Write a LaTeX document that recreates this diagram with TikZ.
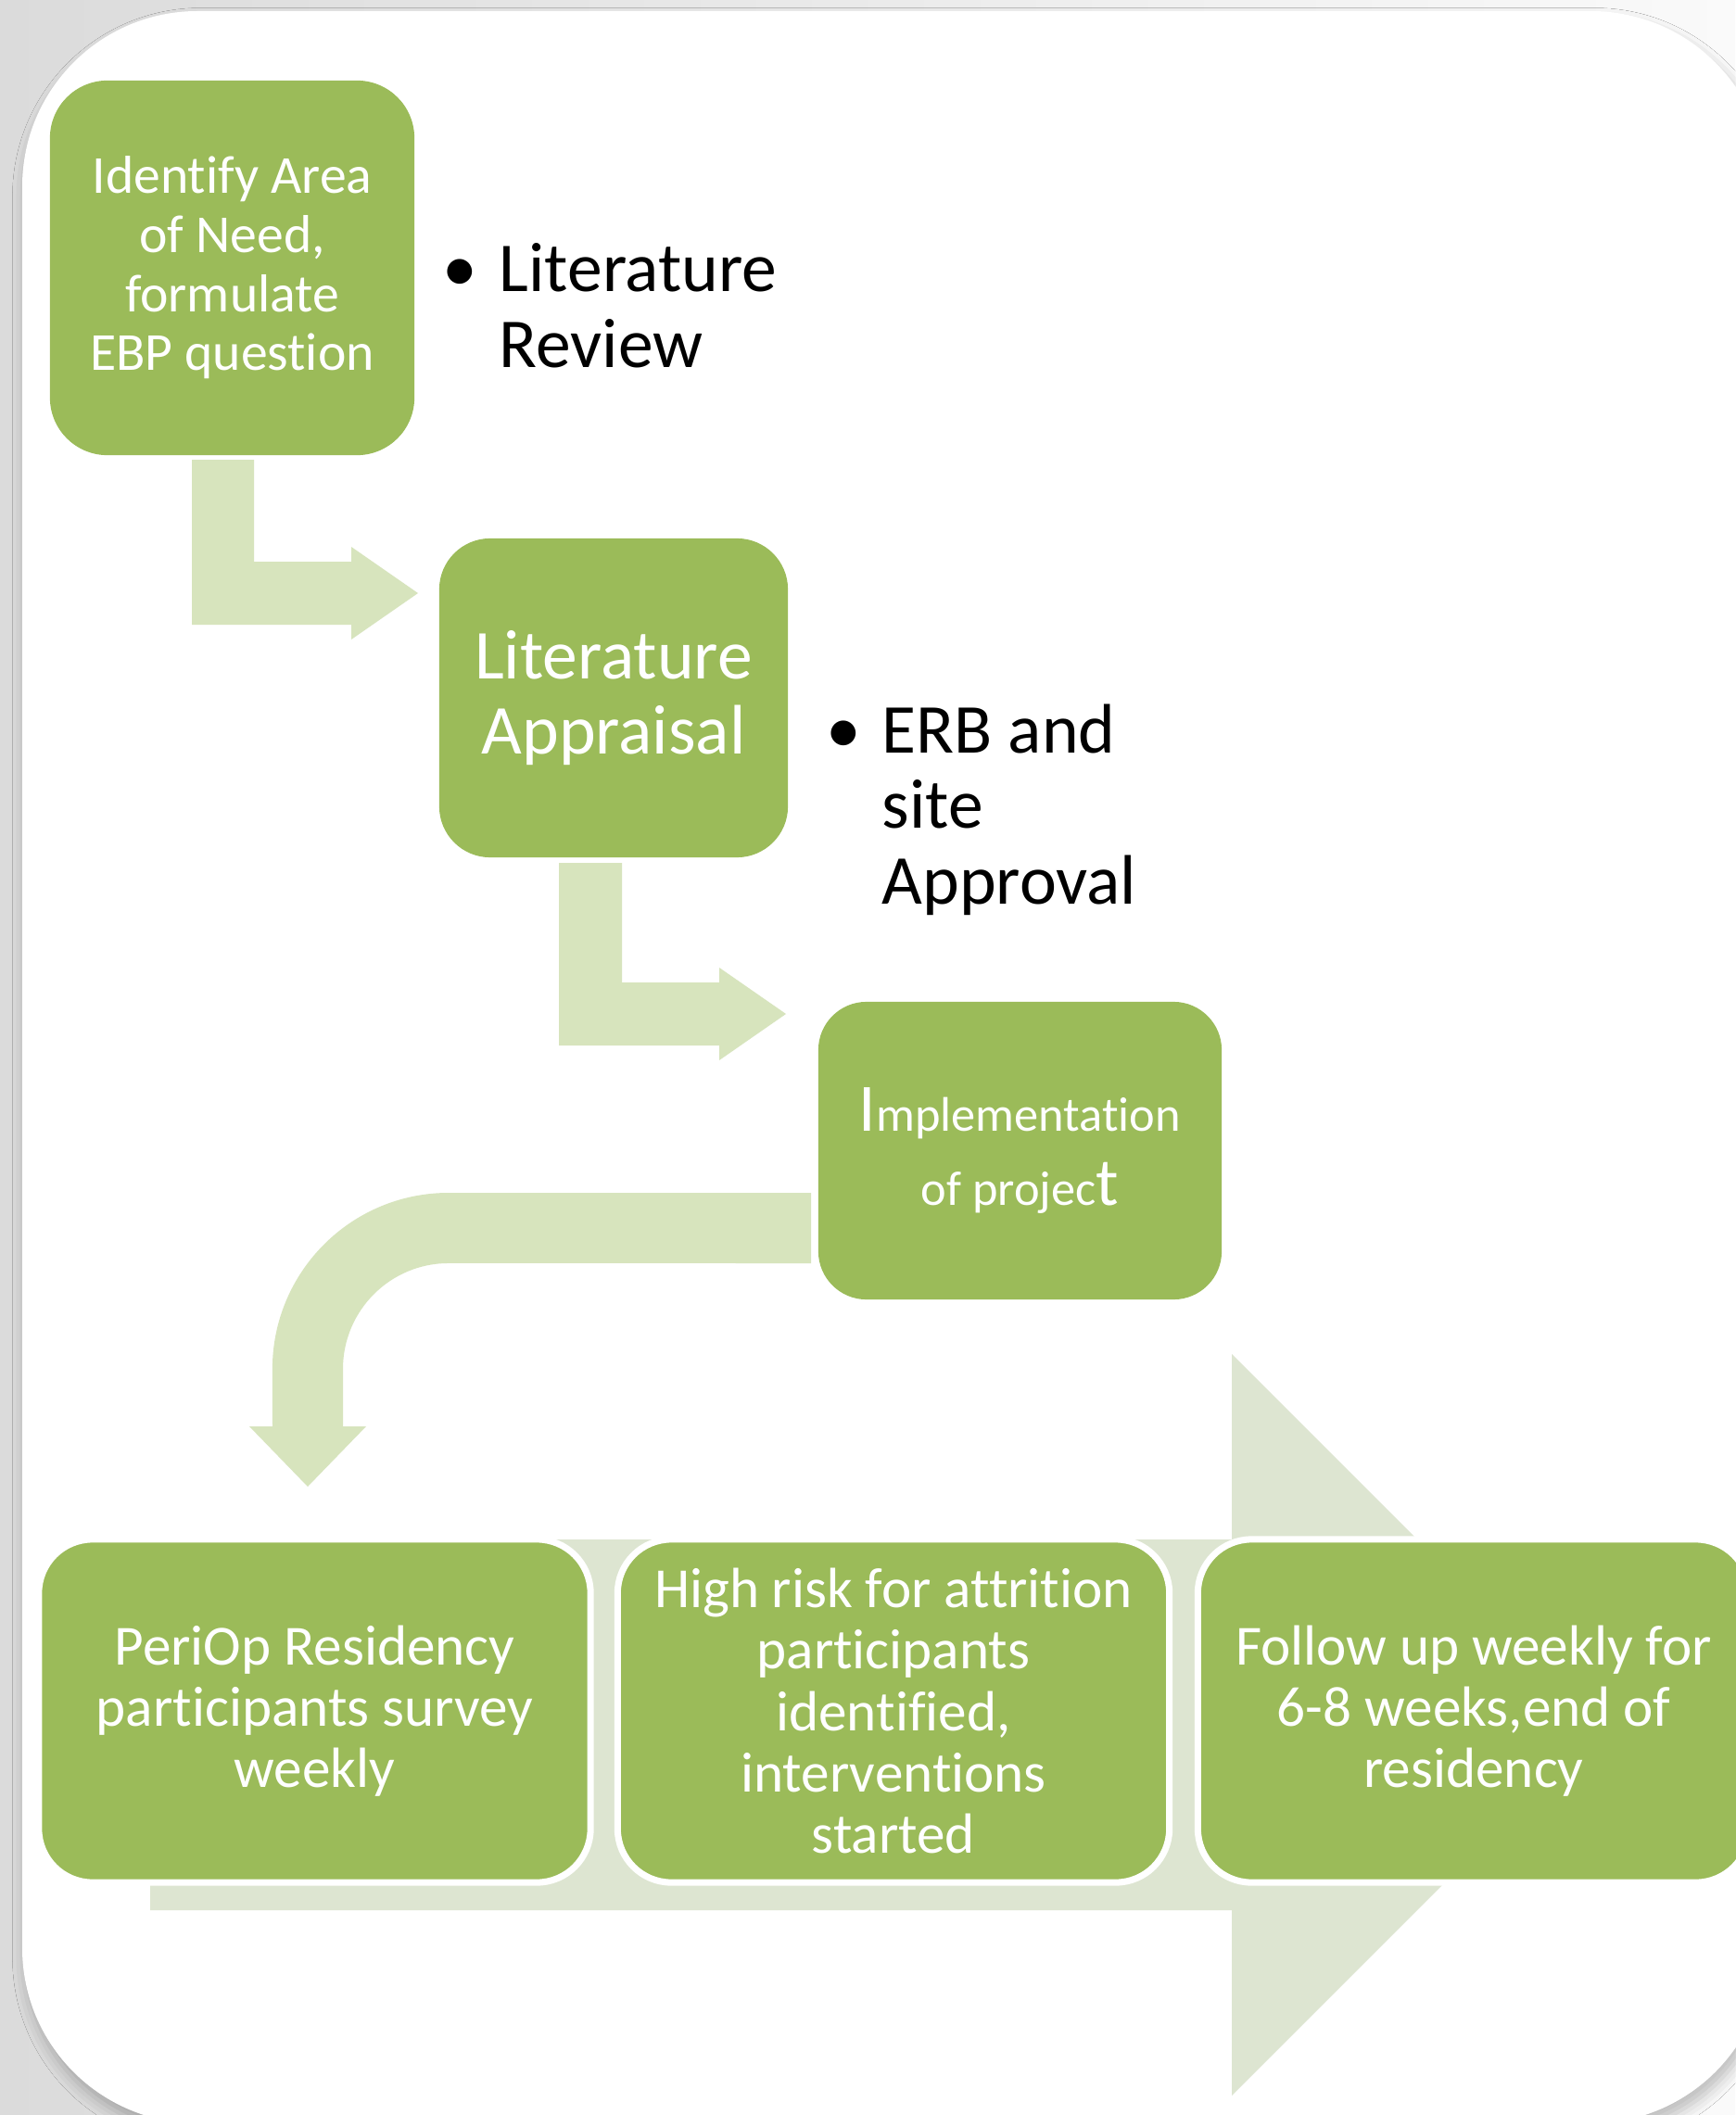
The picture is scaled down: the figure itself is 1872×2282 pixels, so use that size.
\documentclass[tikz,border=0pt]{standalone}
\usepackage{fontspec}
\setmainfont[Ligatures=NoCommon]{Carlito}
\usetikzlibrary{shadows.blur}
\definecolor{boxgreen}{HTML}{9BBB59}
\definecolor{linkgreen}{HTML}{D7E4BD}
\definecolor{flowgreen}{HTML}{DDE5D1}
\definecolor{pagegrey}{HTML}{DBDBDB}
\definecolor{pagelight}{HTML}{FAFAFA}
% one oversized letter inside a line of text
\newcommand\tallchar[1]{{\fontsize{20.8pt}{22.8pt}\selectfont #1}}

\begin{document}
\begin{tikzpicture}[x=0.01cm,y=0.01cm,
  stepbox/.style={fill=boxgreen, text=white, inner sep=0pt, align=center},
  stagebox/.style={stepbox, draw=white, line width=2pt, rounded corners=0.58cm,
    minimum width=5.95cm, minimum height=3.70cm,
    font=\fontsize{17.4pt}{18.8pt}\selectfont},
  bullettext/.style={font=\fontsize{21.5pt}{23.2pt}\selectfont, inner sep=0pt},
]
\useasboundingbox (0,0) rectangle (1872,-2282);

% backdrop and rounded white panel
\shade[left color=pagegrey, right color=pagelight] (0,0) rectangle (1872,-2282);
\fill[white, rounded corners=1.89cm,
  blur shadow={shadow xshift=1pt, shadow yshift=-3pt, shadow blur radius=4pt, shadow opacity=25}]
  (24,-12) rectangle (1906,-2291);

% wide process arrow behind the three stages
\fill[flowgreen] (162,-1661) -- (1329,-1661) -- (1329,-1461) -- (1729,-1861)
  -- (1329,-2261) -- (1329,-2061) -- (162,-2061) -- cycle;

% bent arrows between the steps
\fill[linkgreen] (207,-496) -- (274,-496) -- (274,-606) -- (379,-606) -- (379,-590)
  -- (451,-640) -- (379,-690) -- (379,-674) -- (207,-674) -- cycle;
\fill[linkgreen] (603,-931) -- (671,-931) -- (671,-1060) -- (776,-1060) -- (776,-1044)
  -- (848,-1094) -- (776,-1144) -- (776,-1128) -- (603,-1128) -- cycle;

% curved arrow turning down to the stages
\fill[linkgreen] (875,-1287) -- (484,-1287) arc[start angle=90, end angle=180, radius=1.90cm]
  -- (294,-1539) -- (269,-1539) -- (332,-1604) -- (395,-1539) -- (370,-1539)
  -- (370,-1477) arc[start angle=180, end angle=90, radius=1.14cm] -- (875,-1363) -- cycle;

% steps
\node[stepbox, minimum width=3.93cm, minimum height=4.04cm, rounded corners=0.62cm,
  font=\fontsize{16.4pt}{18.1pt}\selectfont] (need) at (250.5,-289)
  {Identify Area\\of Need,\\formulate\\EBP question};
\node[stepbox, minimum width=3.76cm, minimum height=3.44cm, rounded corners=0.55cm,
  font=\fontsize{21.5pt}{23.2pt}\selectfont] (appraisal) at (662,-753)
  {Literature\\Appraisal};
\node[stepbox, minimum width=4.35cm, minimum height=3.21cm, rounded corners=0.52cm,
  font=\fontsize{14.9pt}{22.8pt}\selectfont] (implement) at (1100.5,-1241.5)
  {\tallchar{I}mplementation\\of projec\tallchar{t}};

% bullet notes
\node[bullettext, anchor=base] (dotone) at (496,-315) {•};
\node[bullettext, anchor=base west] (review) at (538,-315)
  {\begin{tabular}[t]{@{}l@{}}Literature\\Review\end{tabular}};
\node[bullettext, anchor=base] (dottwo) at (910,-812) {•};
\node[bullettext, anchor=base west] (approval) at (951,-812)
  {\begin{tabular}[t]{@{}l@{}}ERB and\\site\\Approval\end{tabular}};

% stages on the process arrow
\node[stagebox] (survey) at (339.5,-1846)
  {PeriOp Residency\\participants survey\\weekly};
\node[stagebox] (risk) at (964,-1846)
  {High risk for attrition\\participants\\identified,\\interventions\\started};
\node[stagebox] (followup) at (1590,-1846)
  {Follow up weekly for\\6-8 weeks,end of\\residency};
\end{tikzpicture}
\end{document}
